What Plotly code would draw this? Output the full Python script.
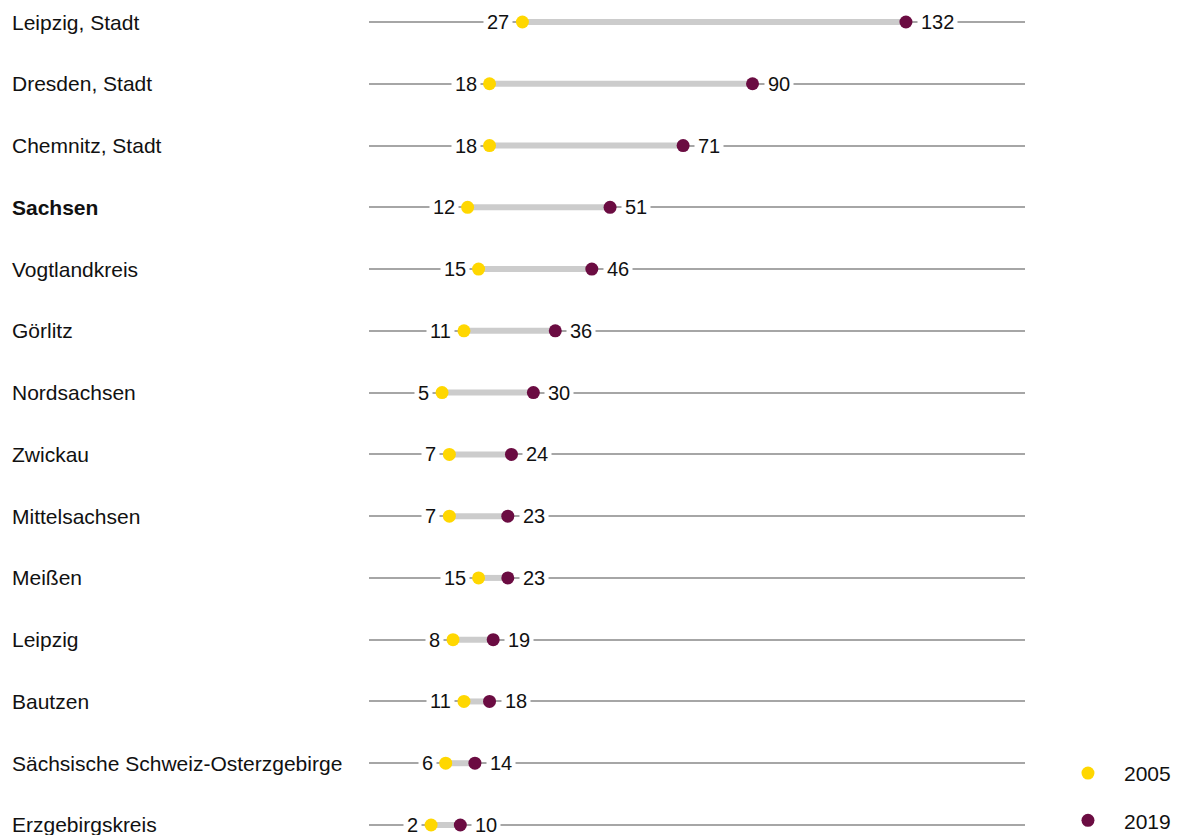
import plotly.graph_objects as go

regions = ['Leipzig, Stadt', 'Dresden, Stadt', 'Chemnitz, Stadt', 'Sachsen',
           'Vogtlandkreis', 'Görlitz', 'Nordsachsen', 'Zwickau', 'Mittelsachsen',
           'Meißen', 'Leipzig', 'Bautzen', 'Sächsische Schweiz-Osterzgebirge',
           'Erzgebirgskreis']
v2005 = [27, 18, 18, 12, 15, 11, 5, 7, 7, 15, 8, 11, 6, 2]
v2019 = [132, 90, 71, 51, 46, 36, 30, 24, 23, 23, 19, 18, 14, 10]

YELLOW = '#FFD700'
PURPLE = '#6B0C42'
FONT = 'Liberation Sans, Arial, sans-serif'

rows = list(range(len(regions)))

# page body has an 8px margin, so the figure is a bit smaller than the window
W, H = 1173, 827
L, R = 361, 156

# thick grey connector between the two years
seg_x, seg_y = [], []
for i in rows:
    seg_x += [v2005[i], v2019[i], None]
    seg_y += [i, i, None]

fig = go.Figure()
fig.add_trace(go.Scatter(x=seg_x, y=seg_y, mode='lines',
                         line=dict(color='#cccccc', width=6),
                         showlegend=False, hoverinfo='skip'))
fig.add_trace(go.Scatter(x=v2005, y=rows, mode='markers', name='2005',
                         marker=dict(color=YELLOW, size=13),
                         legendgroup='a', text=regions))
fig.add_trace(go.Scatter(x=v2019, y=rows, mode='markers', name='2019',
                         marker=dict(color=PURPLE, size=13),
                         legendgroup='b', text=regions))

annotations = []
for i in rows:
    annotations.append(dict(x=v2005[i], y=i, text=str(v2005[i]), showarrow=False,
                            xanchor='right', xshift=-9, bgcolor='white', borderpad=3,
                            font=dict(size=20, color='#111111')))
    annotations.append(dict(x=v2019[i], y=i, text=str(v2019[i]), showarrow=False,
                            xanchor='left', xshift=11, bgcolor='white', borderpad=3,
                            font=dict(size=20, color='#111111')))
    label = '<b>%s</b>' % regions[i] if regions[i] == 'Sachsen' else regions[i]
    annotations.append(dict(x=-(L - 2) / (W - L - R), xref='paper', y=i, yref='y',
                            text=label, showarrow=False, xanchor='left',
                            font=dict(size=21, color='#111111')))

fig.update_layout(
    width=W, height=H,
    margin=dict(l=L, r=R, t=0, b=0),
    plot_bgcolor='white', paper_bgcolor='white',
    font=dict(family=FONT, size=21, color='#111111'),
    xaxis=dict(range=[-15, 164.6], showgrid=False, zeroline=False,
               showticklabels=False, ticks='', fixedrange=True),
    yaxis=dict(range=[13.162, -0.2267], tickvals=rows, showticklabels=False,
               showgrid=True, gridcolor='#a6a6a6', gridwidth=1.5,
               zeroline=False, ticks='', fixedrange=True),
    annotations=annotations,
    showlegend=True,
    legend=dict(xref='container', yref='container', x=0.8900, y=0.0993,
                xanchor='left', yanchor='top', traceorder='grouped',
                tracegroupgap=17, font=dict(size=21), itemwidth=62,
                bgcolor='rgba(0,0,0,0)'),
)

fig.write_html('out.html')
